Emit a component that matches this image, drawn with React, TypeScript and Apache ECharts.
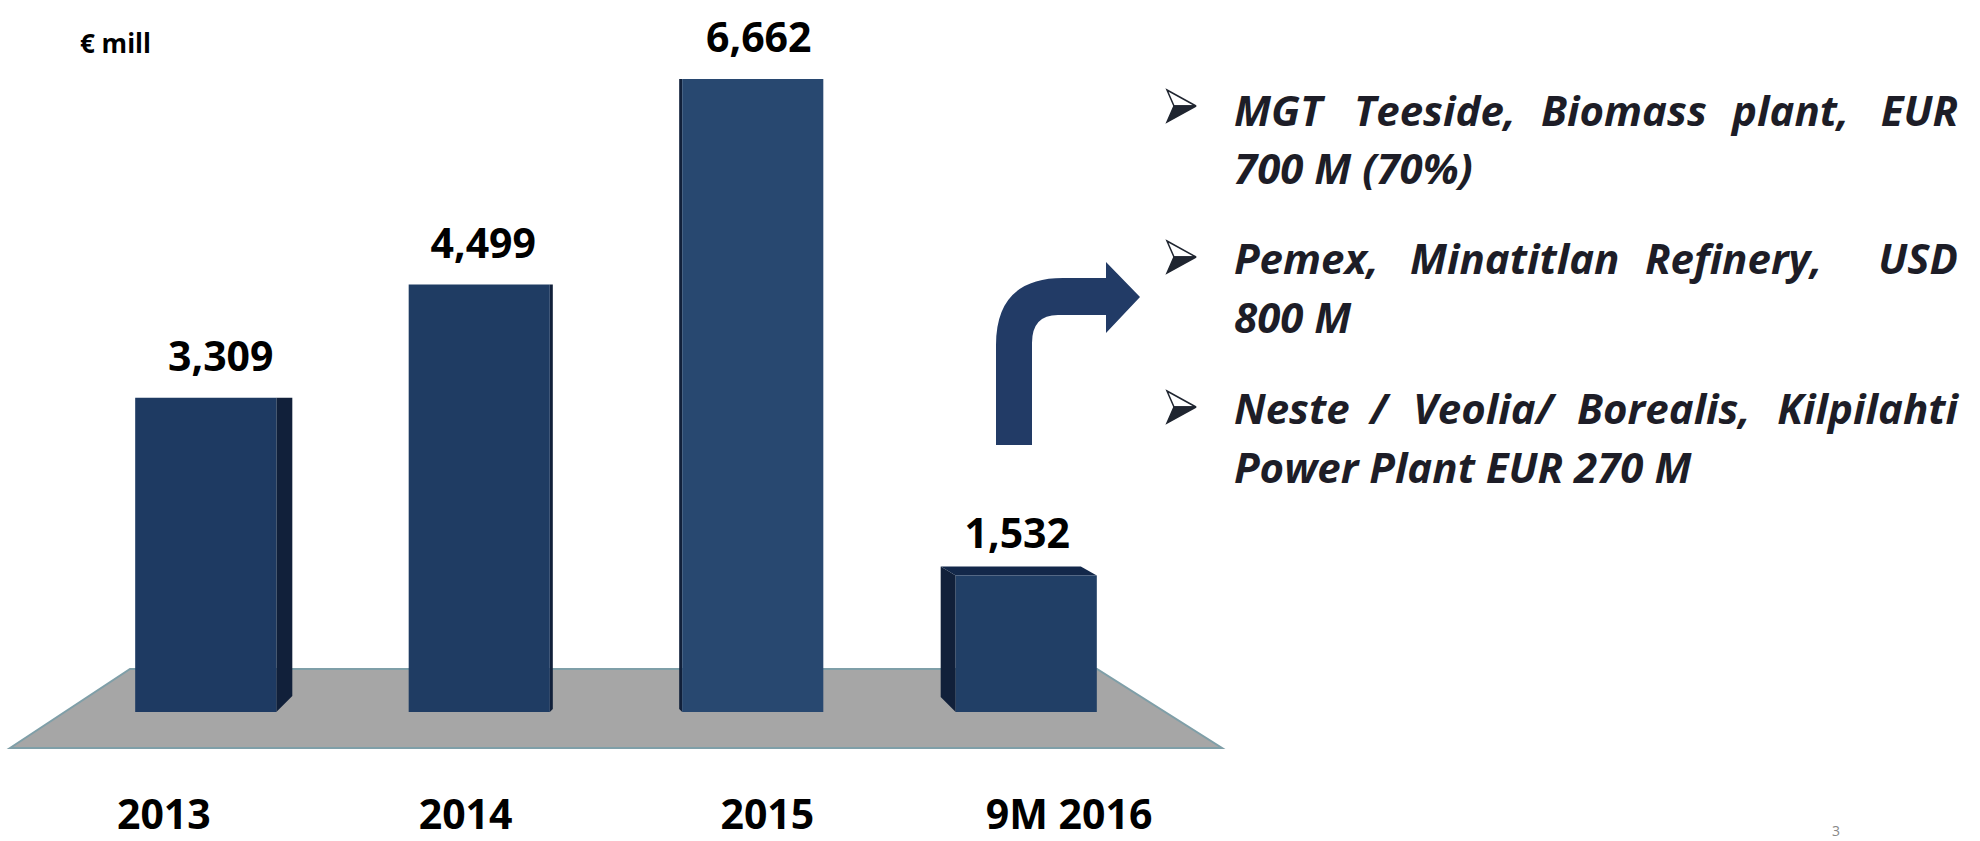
import React, { useEffect, useRef } from 'react';
import * as echarts from 'echarts';

// ---------- data ----------
const categories: string[] = ['2013', '2014', '2015', '9M 2016'];
const values: number[] = [3309, 4499, 6662, 1532];
const unitLabel = '€ mill';
const bulletLine1: string[] = ['MGT', 'Teeside,', 'Biomass', 'plant,', 'EUR'];
const bulletLine2 = '700 M (70%)';
const bulletLine3: string[] = ['Pemex,', 'Minatitlan', 'Refinery,', 'USD'];
const bulletLine4 = '800 M';
const bulletLine5: string[] = ['Neste', '/', 'Veolia/', 'Borealis,', 'Kilpilahti'];
const bulletLine6 = 'Power Plant EUR 270 M';
const pageNumber = '3';

// ---------- styles / layout ----------
const FRONT_COLORS = ['#1E3A62', '#1F3C63', '#284870', '#213F66'];
const SIDE_COLOR = '#11203A';
const SIDE_DEPTH = [16, 3, -3, -15];
const TOP_BEVEL = [0, 0, 0, 9];
const LABEL_DX = [15, 4, 6, -9];
const TEXT_FONT = '"Open Sans", "DejaVu Sans", sans-serif';
const TEXT_COLOR = '#1d1d27';

const ARROW_PATH =
  'M0 183 L0 83 Q0 16 67 16 L110 16 L110 0 L144 35 L110 71 L110 53 L62 53 Q36 53 36 81 L36 183 Z';
echarts.graphic.registerShape('bendArrow', echarts.graphic.extendPath(ARROW_PATH, {}));

function wordTexts(words: string[], xs: number[], y: number) {
  return words.map((w, i) => {
    const last = i === words.length - 1;
    return {
      type: 'text',
      x: last ? 1958 : xs[i],
      y,
      z: 10,
      style: {
        text: w,
        fontSize: 42,
        fontWeight: 'bold',
        fontStyle: 'italic',
        fontFamily: TEXT_FONT,
        fill: TEXT_COLOR,
        align: last ? 'right' : 'left',
        verticalAlign: 'middle',
      },
    };
  });
}

function lineText(text: string, y: number) {
  return {
    type: 'text',
    x: 1234,
    y,
    z: 10,
    style: {
      text,
      fontSize: 42,
      fontWeight: 'bold',
      fontStyle: 'italic',
      fontFamily: TEXT_FONT,
      fill: TEXT_COLOR,
      align: 'left',
      verticalAlign: 'middle',
    },
  };
}

function bullet(cy: number) {
  const x0 = 1167;
  return {
    type: 'group',
    z: 10,
    children: [
      {
        type: 'polygon',
        shape: {
          points: [
            [x0, cy - 16],
            [x0 + 29, cy],
            [x0 + 7, cy],
          ],
        },
        style: { fill: '#ffffff', stroke: '#1f2530', lineWidth: 1.5, lineJoin: 'miter' },
      },
      {
        type: 'polygon',
        shape: {
          points: [
            [x0 + 7, cy],
            [x0 + 29, cy],
            [x0, cy + 16],
          ],
        },
        style: { fill: '#1f2530', stroke: '#1f2530', lineWidth: 1.5, lineJoin: 'miter' },
      },
    ],
  };
}

export default function App() {
  const ref = useRef<HTMLDivElement | null>(null);

  useEffect(() => {
    if (!ref.current) return;
    const chart = echarts.init(ref.current, undefined, { renderer: 'svg' });

    const renderItem = (params: any, api: any) => {
      const i = params.dataIndex;
      const v = api.value(1);
      const top = api.coord([i, v]);
      const base = api.coord([i, 0]);
      const band = api.size([1, 0])[0];
      const w = band * 0.516;
      const x0 = top[0] - w / 2;
      const x1 = top[0] + w / 2;
      const bev = TOP_BEVEL[i];
      const frontTop = top[1] + bev;
      const d = SIDE_DEPTH[i];
      const children: any[] = [];
      let sidePts: number[][];
      if (d >= 0) {
        sidePts = [
          [x1, frontTop],
          [x1 + d, frontTop],
          [x1 + d, base[1] - d],
          [x1, base[1]],
        ];
      } else {
        sidePts = [
          [x0, frontTop],
          [x0 + d, frontTop - bev],
          [x0 + d, base[1] + d],
          [x0, base[1]],
        ];
      }
      children.push({
        type: 'polygon',
        shape: { points: sidePts },
        style: { fill: SIDE_COLOR },
      });
      if (bev > 0) {
        children.push({
          type: 'polygon',
          shape: {
            points: [
              [x0 + d, top[1]],
              [x1 - 16, top[1]],
              [x1, frontTop],
              [x0, frontTop],
            ],
          },
          style: { fill: '#13284A' },
        });
      }
      children.push({
        type: 'rect',
        shape: { x: x0, y: frontTop, width: w, height: base[1] - frontTop },
        style: { fill: FRONT_COLORS[i] },
      });
      children.push({
        type: 'text',
        x: top[0] + LABEL_DX[i],
        y: frontTop - 43,
        style: {
          text: Number(v).toLocaleString('en-US'),
          fontSize: 41,
          fontWeight: 'bold',
          fontFamily: TEXT_FONT,
          fill: '#000',
          align: 'center',
          verticalAlign: 'middle',
        },
      });
      return { type: 'group', children };
    };

    const option: any = {
      animation: false,
      backgroundColor: '#ffffff',
      grid: [
        { left: 69, width: 1094, top: 47, height: 665 },
        { left: 13, width: 1207, top: 780, height: 10 },
      ],
      xAxis: [
        { type: 'category', gridIndex: 0, data: categories, show: false },
        {
          type: 'category',
          gridIndex: 1,
          data: categories,
          axisLine: { show: false },
          axisTick: { show: false },
          splitLine: { show: false },
          axisLabel: {
            interval: 0,
            margin: 23,
            verticalAlign: 'middle',
            fontSize: 41,
            fontWeight: 'bold',
            fontFamily: TEXT_FONT,
            color: '#000',
          },
        },
      ],
      yAxis: [
        { type: 'value', gridIndex: 0, min: 0, max: 7000, show: false },
        { type: 'value', gridIndex: 1, min: 0, max: 1, show: false },
      ],
      series: [
        {
          type: 'custom',
          xAxisIndex: 0,
          yAxisIndex: 0,
          z: 5,
          encode: { x: 0, y: 1 },
          data: values.map((v, i) => [i, v]),
          renderItem,
        },
      ],
      graphic: [
        {
          type: 'polygon',
          z: 0,
          shape: {
            points: [
              [10, 748],
              [130, 669],
              [1097, 669],
              [1222, 748],
            ],
          },
          style: { fill: '#A6A6A6', stroke: '#7F9FA8', lineWidth: 2 },
        },
        {
          type: 'text',
          x: 80,
          y: 43,
          style: {
            text: unitLabel,
            fontSize: 26,
            fontWeight: 'bold',
            fontFamily: TEXT_FONT,
            fill: '#000',
            align: 'left',
            verticalAlign: 'middle',
          },
        },
        {
          type: 'bendArrow',
          x: 996,
          y: 262,
          z: 10,
          style: { fill: '#223B66' },
        },
        bullet(106),
        ...wordTexts(bulletLine1, [1234, 1354, 1541, 1732], 109),
        lineText(bulletLine2, 167),
        bullet(257),
        ...wordTexts(bulletLine3, [1234, 1410, 1645], 257),
        lineText(bulletLine4, 316),
        bullet(407),
        ...wordTexts(bulletLine5, [1234, 1370, 1413, 1577], 407),
        lineText(bulletLine6, 466),
        {
          type: 'text',
          x: 1836,
          y: 823,
          style: {
            text: pageNumber,
            fontSize: 14,
            fontFamily: TEXT_FONT,
            fill: '#888',
            align: 'center',
            verticalAlign: 'top',
          },
        },
      ],
    };

    chart.setOption(option);
    return () => {
      chart.dispose();
    };
  }, []);

  return (
    <div
      ref={ref}
      style={{ position: 'absolute', left: 0, top: 0, width: 1980, height: 841, background: '#fff' }}
    />
  );
}
